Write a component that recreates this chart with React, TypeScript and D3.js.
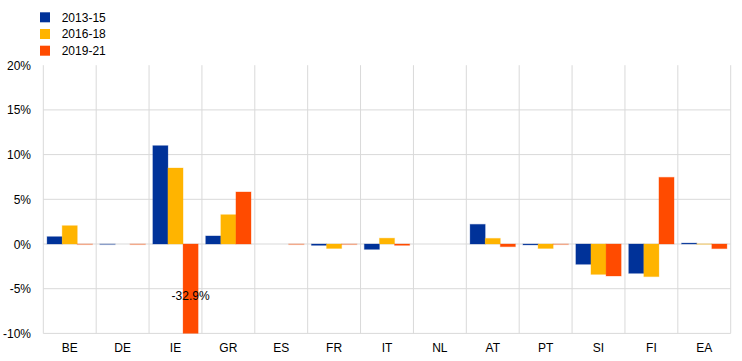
import React from "react";
import * as d3 from "d3";

const categories = ["BE", "DE", "IE", "GR", "ES", "FR", "IT", "NL", "AT", "PT", "SI", "FI", "EA"];
const seriesNames = ["2013-15", "2016-18", "2019-21"];
const s2013 = [0.82, -0.03, 11.0, 0.9, 0.0, -0.15, -0.6, 0.0, 2.2, -0.1, -2.27, -3.28, 0.1];
const s2016 = [2.05, 0.0, 8.5, 3.28, 0.0, -0.5, 0.65, 0.0, 0.63, -0.5, -3.4, -3.65, 0.02];
const s2019 = [-0.03, -0.03, -32.9, 5.82, -0.02, -0.02, -0.15, 0.0, -0.3, -0.02, -3.58, 7.46, -0.52];
const colors = ["#003299", "#FFB400", "#FF4B00"];
const yTicks = [-10, -5, 0, 5, 10, 15, 20];
const annotation = { cat: "IE", series: 2, text: "-32.9%" };

export default function App() {
  const W = 742, H = 361;
  const left = 43.3, right = 730.7, top = 65.2, bottom = 333.4;
  const font = "'Liberation Sans', Arial, sans-serif";
  const x = d3.scaleBand<string>().domain(categories).range([left, right]).padding(0);
  const inner = d3.scaleBand<number>().domain([0, 1, 2]).range([0, x.bandwidth()]).paddingOuter(0.25).paddingInner(0);
  const y = d3.scaleLinear().domain([-10, 20]).range([bottom, top]);
  const series = [s2013, s2016, s2019];
  const grid = "#d9d9d9";
  return (
    <div style={{ position: "absolute", left: 0, top: 0 }}>
      <svg width={W} height={H} style={{ display: "block", fontFamily: font }}>
        <rect width={W} height={H} fill="#fff" />
        {yTicks.filter(t => t !== 20).map(t => (
          <line key={"h" + t} x1={left} x2={right} y1={y(t)} y2={y(t)} stroke={grid} strokeWidth={1} />
        ))}
        {[...categories.map(c => x(c)!), right].map((v, i) => (
          <line key={"v" + i} x1={v} x2={v} y1={top} y2={bottom} stroke={grid} strokeWidth={1} />
        ))}
        <clipPath id="plotclip">
          <rect x={left} y={top} width={right - left} height={bottom - top} />
        </clipPath>
        <g clipPath="url(#plotclip)">
          {series.map((s, si) =>
            s.map((v, ci) => {
              if (v === 0) return null;
              const x0 = x(categories[ci])! + inner(si)!;
              const y0 = y(Math.max(0, v));
              const h = Math.max(Math.abs(y(v) - y(0)), 0.6);
              return (
                <rect key={si + "-" + ci} x={x0} y={y0} width={inner.bandwidth()} height={h}
                  fill={colors[si]} stroke={colors[si]} strokeOpacity={0.3} strokeWidth={1}
                  fillOpacity={Math.abs(v) < 0.05 ? 0.25 : 1} />
              );
            })
          )}
        </g>
        <text x={x(annotation.cat)! + inner(annotation.series)! + inner.bandwidth() / 2} y={300}
          textAnchor="middle" fontSize={12} fill="#000">{annotation.text}</text>
        {yTicks.map(t => (
          <text key={"yt" + t} x={31} y={y(t) + 4.5} textAnchor="end" fontSize={12} fill="#000">{t + "%"}</text>
        ))}
        {categories.map(c => (
          <text key={"xt" + c} x={x(c)! + x.bandwidth() / 2} y={352} textAnchor="middle" fontSize={12} fill="#000">{c}</text>
        ))}
        {seriesNames.map((n, i) => (
          <g key={n}>
            <rect x={40} y={12.3 + i * 16.7} width={10} height={10} fill={colors[i]} />
            <text x={61.7} y={21.7 + i * 16.7} fontSize={12} fill="#000">{n}</text>
          </g>
        ))}
      </svg>
    </div>
  );
}
